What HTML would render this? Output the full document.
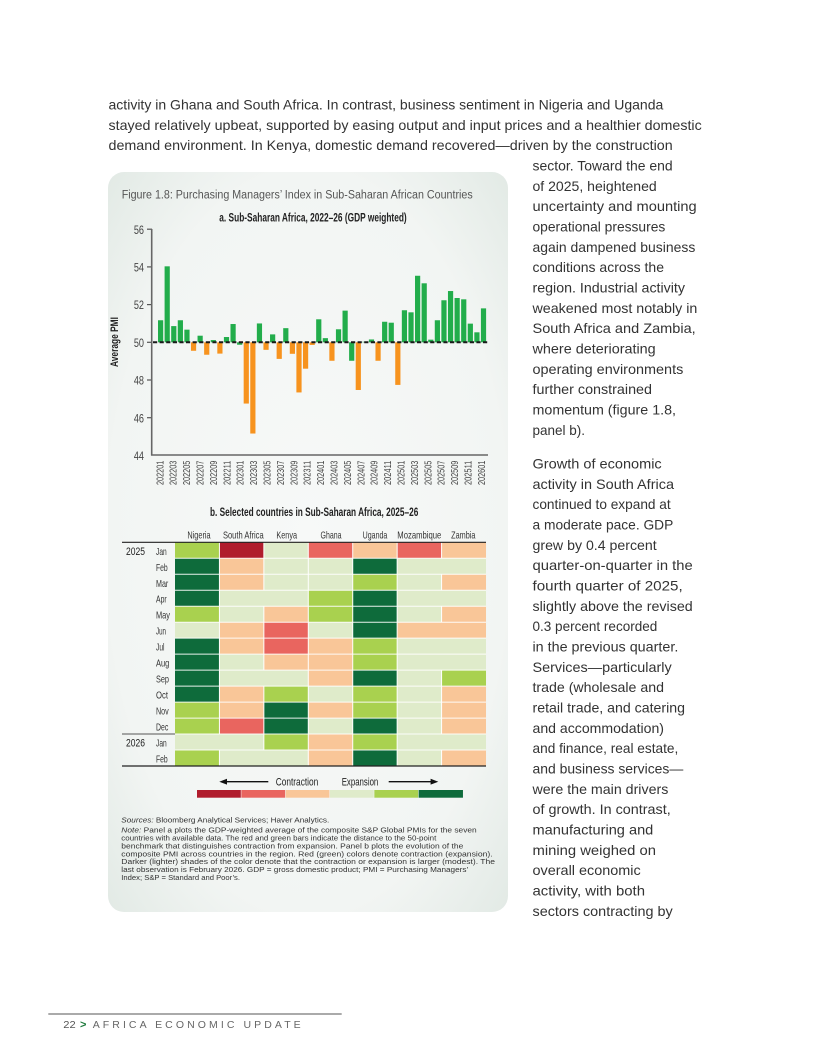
<!DOCTYPE html>
<html><head><meta charset="utf-8">
<style>
html,body{margin:0;padding:0;background:#fff}
svg{display:block}
text{font-family:"Liberation Sans",sans-serif}
.bt{font-size:14px;fill:#333}
.dr{fill:#b01c2c}.r{fill:#e9655f}.p{fill:#f9c698}.lg{fill:#dfebca}.g{fill:#a9d14f}.dg{fill:#0e6b3b}
.gb{fill:#22ad4b}.ob{fill:#f7931e}
.xl{font-size:10.5px;fill:#444}
.ml{font-size:10.5px;fill:#333}
.nt{font-size:7.6px;fill:#333}
</style></head>
<body>
<svg width="816" height="1056" viewBox="0 0 816 1056" xmlns="http://www.w3.org/2000/svg">
<defs>
<radialGradient id="cg" cx="50%" cy="50%" r="72%">
<stop offset="0" stop-color="#f7f9f8"/>
<stop offset="0.7" stop-color="#f2f5f3"/>
<stop offset="1" stop-color="#e1e9e4"/>
</radialGradient>
</defs>
<rect width="816" height="1056" fill="#fff"/>

<!-- top paragraph -->
<text class="bt" x="108.5" y="109.5" textLength="554.8" lengthAdjust="spacingAndGlyphs">activity in Ghana and South Africa. In contrast, business sentiment in Nigeria and Uganda</text>
<text class="bt" x="108.5" y="129.8" textLength="593.2" lengthAdjust="spacingAndGlyphs">stayed relatively upbeat, supported by easing output and input prices and a healthier domestic</text>
<text class="bt" x="108.5" y="150.2" textLength="564.2" lengthAdjust="spacingAndGlyphs">demand environment. In Kenya, domestic demand recovered—driven by the construction</text>

<!-- right column paragraph 1 -->
<text class="bt" x="532.5" y="170.5" textLength="140.2" lengthAdjust="spacingAndGlyphs">sector. Toward the end</text>
<text class="bt" x="532.5" y="190.83" textLength="124.2" lengthAdjust="spacingAndGlyphs">of 2025, heightened</text>
<text class="bt" x="532.5" y="211.16" textLength="164.2" lengthAdjust="spacingAndGlyphs">uncertainty and mounting</text>
<text class="bt" x="532.5" y="231.49" textLength="132.8" lengthAdjust="spacingAndGlyphs">operational pressures</text>
<text class="bt" x="532.5" y="251.82" textLength="162.8" lengthAdjust="spacingAndGlyphs">again dampened business</text>
<text class="bt" x="532.5" y="272.15" textLength="131.5" lengthAdjust="spacingAndGlyphs">conditions across the</text>
<text class="bt" x="532.5" y="292.48" textLength="152.5" lengthAdjust="spacingAndGlyphs">region. Industrial activity</text>
<text class="bt" x="532.5" y="312.81" textLength="164.8" lengthAdjust="spacingAndGlyphs">weakened most notably in</text>
<text class="bt" x="532.5" y="333.14" textLength="163.2" lengthAdjust="spacingAndGlyphs">South Africa and Zambia,</text>
<text class="bt" x="532.5" y="353.47" textLength="123.2" lengthAdjust="spacingAndGlyphs">where deteriorating</text>
<text class="bt" x="532.5" y="373.8" textLength="150.8" lengthAdjust="spacingAndGlyphs">operating environments</text>
<text class="bt" x="532.5" y="394.13" textLength="119.5" lengthAdjust="spacingAndGlyphs">further constrained</text>
<text class="bt" x="532.5" y="414.46" textLength="143.5" lengthAdjust="spacingAndGlyphs">momentum (figure 1.8,</text>
<text class="bt" x="532.5" y="434.79" textLength="52.5" lengthAdjust="spacingAndGlyphs">panel b).</text>

<!-- right column paragraph 2 -->
<text class="bt" x="532.5" y="468.5" textLength="129.2" lengthAdjust="spacingAndGlyphs">Growth of economic</text>
<text class="bt" x="532.5" y="488.83" textLength="141.5" lengthAdjust="spacingAndGlyphs">activity in South Africa</text>
<text class="bt" x="532.5" y="509.16" textLength="138.2" lengthAdjust="spacingAndGlyphs">continued to expand at</text>
<text class="bt" x="532.5" y="529.49" textLength="140.8" lengthAdjust="spacingAndGlyphs">a moderate pace. GDP</text>
<text class="bt" x="532.5" y="549.82" textLength="124.2" lengthAdjust="spacingAndGlyphs">grew by 0.4 percent</text>
<text class="bt" x="532.5" y="570.15" textLength="160.2" lengthAdjust="spacingAndGlyphs">quarter-on-quarter in the</text>
<text class="bt" x="532.5" y="590.48" textLength="150.2" lengthAdjust="spacingAndGlyphs">fourth quarter of 2025,</text>
<text class="bt" x="532.5" y="610.81" textLength="160.2" lengthAdjust="spacingAndGlyphs">slightly above the revised</text>
<text class="bt" x="532.5" y="631.14" textLength="124.8" lengthAdjust="spacingAndGlyphs">0.3 percent recorded</text>
<text class="bt" x="532.5" y="651.47" textLength="145.8" lengthAdjust="spacingAndGlyphs">in the previous quarter.</text>
<text class="bt" x="532.5" y="671.8" textLength="139.2" lengthAdjust="spacingAndGlyphs">Services—particularly</text>
<text class="bt" x="532.5" y="692.13" textLength="131.5" lengthAdjust="spacingAndGlyphs">trade (wholesale and</text>
<text class="bt" x="532.5" y="712.46" textLength="152.5" lengthAdjust="spacingAndGlyphs">retail trade, and catering</text>
<text class="bt" x="532.5" y="732.79" textLength="131.5" lengthAdjust="spacingAndGlyphs">and accommodation)</text>
<text class="bt" x="532.5" y="753.12" textLength="145.8" lengthAdjust="spacingAndGlyphs">and finance, real estate,</text>
<text class="bt" x="532.5" y="773.45" textLength="150.8" lengthAdjust="spacingAndGlyphs">and business services—</text>
<text class="bt" x="532.5" y="793.78" textLength="135.8" lengthAdjust="spacingAndGlyphs">were the main drivers</text>
<text class="bt" x="532.5" y="814.11" textLength="138.2" lengthAdjust="spacingAndGlyphs">of growth. In contrast,</text>
<text class="bt" x="532.5" y="834.44" textLength="120.8" lengthAdjust="spacingAndGlyphs">manufacturing and</text>
<text class="bt" x="532.5" y="854.77" textLength="123.5" lengthAdjust="spacingAndGlyphs">mining weighed on</text>
<text class="bt" x="532.5" y="875.1" textLength="108.2" lengthAdjust="spacingAndGlyphs">overall economic</text>
<text class="bt" x="532.5" y="895.43" textLength="112.5" lengthAdjust="spacingAndGlyphs">activity, with both</text>
<text class="bt" x="532.5" y="915.76" textLength="140.2" lengthAdjust="spacingAndGlyphs">sectors contracting by</text>

<!-- card -->
<rect x="108" y="172" width="400" height="740" rx="16" ry="16" fill="url(#cg)"/>

<text x="121.7" y="198.3" font-size="11.5" fill="#555" textLength="351" lengthAdjust="spacingAndGlyphs">Figure 1.8: Purchasing Managers’ Index in Sub-Saharan African Countries</text>

<!-- panel a -->
<text x="219.3" y="221.5" font-size="11.5" font-weight="bold" fill="#222" textLength="187.4" lengthAdjust="spacingAndGlyphs">a. Sub-Saharan Africa, 2022–26 (GDP weighted)</text>

<text transform="translate(118,342) rotate(-90)" text-anchor="middle" font-size="11" font-weight="bold" fill="#222" textLength="50" lengthAdjust="spacingAndGlyphs">Average PMI</text>

<g font-size="12" fill="#444" text-anchor="end">
<text transform="translate(144,233.8) scale(0.76,1)">56</text>
<text transform="translate(144,271.5) scale(0.76,1)">54</text>
<text transform="translate(144,309.2) scale(0.76,1)">52</text>
<text transform="translate(144,346.9) scale(0.76,1)">50</text>
<text transform="translate(144,384.6) scale(0.76,1)">48</text>
<text transform="translate(144,422.3) scale(0.76,1)">46</text>
<text transform="translate(144,460) scale(0.76,1)">44</text>
</g>
<g stroke="#555" stroke-width="1.2">
<line x1="147" y1="229.2" x2="152" y2="229.2"/>
<line x1="147" y1="266.9" x2="152" y2="266.9"/>
<line x1="147" y1="304.6" x2="152" y2="304.6"/>
<line x1="147" y1="342.3" x2="152" y2="342.3"/>
<line x1="147" y1="380" x2="152" y2="380"/>
<line x1="147" y1="417.7" x2="152" y2="417.7"/>
</g>

<!-- bars -->
<g>
<rect class="gb" x="158.00" y="320.25" width="5.2" height="22.05"/>
<rect class="gb" x="164.59" y="266.33" width="5.2" height="75.97"/>
<rect class="gb" x="171.18" y="326.09" width="5.2" height="16.21"/>
<rect class="gb" x="177.77" y="320.25" width="5.2" height="22.05"/>
<rect class="gb" x="184.36" y="329.67" width="5.2" height="12.63"/>
<rect class="ob" x="190.95" y="342.3" width="5.2" height="8.48"/>
<rect class="gb" x="197.54" y="335.70" width="5.2" height="6.60"/>
<rect class="ob" x="204.13" y="342.3" width="5.2" height="12.44"/>
<rect class="gb" x="210.72" y="340.04" width="5.2" height="2.26"/>
<rect class="ob" x="217.31" y="342.3" width="5.2" height="11.31"/>
<rect class="gb" x="223.90" y="337.02" width="5.2" height="5.28"/>
<rect class="gb" x="230.49" y="324.02" width="5.2" height="18.28"/>
<rect class="gb" x="237.08" y="342.3" width="5.2" height="2.45"/>
<rect class="ob" x="243.67" y="342.3" width="5.2" height="61.26"/>
<rect class="ob" x="250.26" y="342.3" width="5.2" height="91.23"/>
<rect class="gb" x="256.85" y="323.45" width="5.2" height="18.85"/>
<rect class="ob" x="263.44" y="342.3" width="5.2" height="7.54"/>
<rect class="gb" x="270.03" y="334.38" width="5.2" height="7.92"/>
<rect class="ob" x="276.62" y="342.3" width="5.2" height="16.59"/>
<rect class="gb" x="283.21" y="328.16" width="5.2" height="14.14"/>
<rect class="ob" x="289.80" y="342.3" width="5.2" height="11.50"/>
<rect class="ob" x="296.39" y="342.3" width="5.2" height="50.14"/>
<rect class="ob" x="302.98" y="342.3" width="5.2" height="26.39"/>
<rect class="ob" x="309.57" y="342.3" width="5.2" height="2.64"/>
<rect class="gb" x="316.16" y="319.30" width="5.2" height="23.00"/>
<rect class="gb" x="322.75" y="338.15" width="5.2" height="4.15"/>
<rect class="ob" x="329.34" y="342.3" width="5.2" height="18.47"/>
<rect class="gb" x="335.93" y="329.29" width="5.2" height="13.01"/>
<rect class="gb" x="342.52" y="310.63" width="5.2" height="31.67"/>
<rect class="gb" x="349.11" y="342.3" width="5.2" height="18.47"/>
<rect class="ob" x="355.70" y="342.3" width="5.2" height="47.69"/>
<rect class="gb" x="362.29" y="341.8" width="5.2" height="0.5"/>
<rect class="gb" x="368.88" y="339.47" width="5.2" height="2.83"/>
<rect class="ob" x="375.47" y="342.3" width="5.2" height="18.47"/>
<rect class="gb" x="382.06" y="321.75" width="5.2" height="20.55"/>
<rect class="gb" x="388.65" y="322.70" width="5.2" height="19.60"/>
<rect class="ob" x="395.24" y="342.3" width="5.2" height="42.60"/>
<rect class="gb" x="401.83" y="310.25" width="5.2" height="32.05"/>
<rect class="gb" x="408.42" y="312.33" width="5.2" height="29.97"/>
<rect class="gb" x="415.01" y="275.76" width="5.2" height="66.54"/>
<rect class="gb" x="421.60" y="283.30" width="5.2" height="59.00"/>
<rect class="gb" x="428.19" y="339.66" width="5.2" height="2.64"/>
<rect class="gb" x="434.78" y="320.25" width="5.2" height="22.05"/>
<rect class="gb" x="441.37" y="300.26" width="5.2" height="42.04"/>
<rect class="gb" x="447.96" y="291.03" width="5.2" height="51.27"/>
<rect class="gb" x="454.55" y="298.00" width="5.2" height="44.30"/>
<rect class="gb" x="461.14" y="299.32" width="5.2" height="42.98"/>
<rect class="gb" x="467.73" y="323.64" width="5.2" height="18.66"/>
<rect class="gb" x="474.32" y="332.31" width="5.2" height="9.99"/>
<rect class="gb" x="480.91" y="308.37" width="5.2" height="33.93"/>
</g>
<line x1="153" y1="342.3" x2="488" y2="342.3" stroke="#1a1a1a" stroke-width="2" stroke-dasharray="4.2 2.4"/>
<line x1="151.7" y1="229" x2="151.7" y2="455.5" stroke="#666" stroke-width="1.6"/>
<line x1="151" y1="455" x2="488" y2="455" stroke="#666" stroke-width="1.6"/>

<!-- x labels -->
<g class="xl">
<text transform="translate(163.3,485) rotate(-90)" textLength="24.3" lengthAdjust="spacingAndGlyphs">202201</text>
<text transform="translate(176.7,485) rotate(-90)" textLength="24.3" lengthAdjust="spacingAndGlyphs">202203</text>
<text transform="translate(190.1,485) rotate(-90)" textLength="24.3" lengthAdjust="spacingAndGlyphs">202205</text>
<text transform="translate(203.5,485) rotate(-90)" textLength="24.3" lengthAdjust="spacingAndGlyphs">202207</text>
<text transform="translate(216.9,485) rotate(-90)" textLength="24.3" lengthAdjust="spacingAndGlyphs">202209</text>
<text transform="translate(230.3,485) rotate(-90)" textLength="24.3" lengthAdjust="spacingAndGlyphs">202211</text>
<text transform="translate(243.7,485) rotate(-90)" textLength="24.3" lengthAdjust="spacingAndGlyphs">202301</text>
<text transform="translate(257.1,485) rotate(-90)" textLength="24.3" lengthAdjust="spacingAndGlyphs">202303</text>
<text transform="translate(270.5,485) rotate(-90)" textLength="24.3" lengthAdjust="spacingAndGlyphs">202305</text>
<text transform="translate(283.9,485) rotate(-90)" textLength="24.3" lengthAdjust="spacingAndGlyphs">202307</text>
<text transform="translate(297.3,485) rotate(-90)" textLength="24.3" lengthAdjust="spacingAndGlyphs">202309</text>
<text transform="translate(310.7,485) rotate(-90)" textLength="24.3" lengthAdjust="spacingAndGlyphs">202311</text>
<text transform="translate(324.1,485) rotate(-90)" textLength="24.3" lengthAdjust="spacingAndGlyphs">202401</text>
<text transform="translate(337.5,485) rotate(-90)" textLength="24.3" lengthAdjust="spacingAndGlyphs">202403</text>
<text transform="translate(350.9,485) rotate(-90)" textLength="24.3" lengthAdjust="spacingAndGlyphs">202405</text>
<text transform="translate(364.3,485) rotate(-90)" textLength="24.3" lengthAdjust="spacingAndGlyphs">202407</text>
<text transform="translate(377.7,485) rotate(-90)" textLength="24.3" lengthAdjust="spacingAndGlyphs">202409</text>
<text transform="translate(391.1,485) rotate(-90)" textLength="24.3" lengthAdjust="spacingAndGlyphs">202411</text>
<text transform="translate(404.5,485) rotate(-90)" textLength="24.3" lengthAdjust="spacingAndGlyphs">202501</text>
<text transform="translate(417.9,485) rotate(-90)" textLength="24.3" lengthAdjust="spacingAndGlyphs">202503</text>
<text transform="translate(431.3,485) rotate(-90)" textLength="24.3" lengthAdjust="spacingAndGlyphs">202505</text>
<text transform="translate(444.7,485) rotate(-90)" textLength="24.3" lengthAdjust="spacingAndGlyphs">202507</text>
<text transform="translate(458.1,485) rotate(-90)" textLength="24.3" lengthAdjust="spacingAndGlyphs">202509</text>
<text transform="translate(471.5,485) rotate(-90)" textLength="24.3" lengthAdjust="spacingAndGlyphs">202511</text>
<text transform="translate(484.9,485) rotate(-90)" textLength="24.3" lengthAdjust="spacingAndGlyphs">202601</text>
</g>

<!-- panel b -->
<text x="210" y="515.8" font-size="11.5" font-weight="bold" fill="#222" textLength="208.3" lengthAdjust="spacingAndGlyphs">b. Selected countries in Sub-Saharan Africa, 2025–26</text>

<g font-size="10.5" fill="#333" text-anchor="middle">
<text x="199" y="538.4" textLength="23.3" lengthAdjust="spacingAndGlyphs">Nigeria</text>
<text x="243.3" y="538.4" textLength="40.7" lengthAdjust="spacingAndGlyphs">South Africa</text>
<text x="286.7" y="538.4" textLength="20.7" lengthAdjust="spacingAndGlyphs">Kenya</text>
<text x="331" y="538.4" textLength="21" lengthAdjust="spacingAndGlyphs">Ghana</text>
<text x="375" y="538.4" textLength="24.7" lengthAdjust="spacingAndGlyphs">Uganda</text>
<text x="419.3" y="538.4" textLength="44" lengthAdjust="spacingAndGlyphs">Mozambique</text>
<text x="463.3" y="538.4" textLength="24.3" lengthAdjust="spacingAndGlyphs">Zambia</text>
</g>

<!-- heatmap cells -->
<g>
<!-- row 0 Jan 2025 -->
<rect class="g" x="175" y="542.3" width="44.5" height="16.1"/><rect class="dr" x="219.43" y="542.3" width="44.5" height="16.1"/><rect class="lg" x="263.86" y="542.3" width="44.5" height="16.1"/><rect class="r" x="308.29" y="542.3" width="44.5" height="16.1"/><rect class="p" x="352.72" y="542.3" width="44.5" height="16.1"/><rect class="r" x="397.15" y="542.3" width="44.5" height="16.1"/><rect class="p" x="441.58" y="542.3" width="44.43" height="16.1"/>
<!-- row 1 Feb -->
<rect class="dg" x="175" y="558.28" width="44.5" height="16.1"/><rect class="p" x="219.43" y="558.28" width="44.5" height="16.1"/><rect class="lg" x="263.86" y="558.28" width="44.5" height="16.1"/><rect class="lg" x="308.29" y="558.28" width="44.5" height="16.1"/><rect class="dg" x="352.72" y="558.28" width="44.5" height="16.1"/><rect class="lg" x="397.15" y="558.28" width="44.5" height="16.1"/><rect class="lg" x="441.58" y="558.28" width="44.43" height="16.1"/>
<!-- row 2 Mar -->
<rect class="dg" x="175" y="574.26" width="44.5" height="16.1"/><rect class="p" x="219.43" y="574.26" width="44.5" height="16.1"/><rect class="lg" x="263.86" y="574.26" width="44.5" height="16.1"/><rect class="lg" x="308.29" y="574.26" width="44.5" height="16.1"/><rect class="g" x="352.72" y="574.26" width="44.5" height="16.1"/><rect class="lg" x="397.15" y="574.26" width="44.5" height="16.1"/><rect class="p" x="441.58" y="574.26" width="44.43" height="16.1"/>
<!-- row 3 Apr -->
<rect class="dg" x="175" y="590.24" width="44.5" height="16.1"/><rect class="lg" x="219.43" y="590.24" width="44.5" height="16.1"/><rect class="lg" x="263.86" y="590.24" width="44.5" height="16.1"/><rect class="g" x="308.29" y="590.24" width="44.5" height="16.1"/><rect class="dg" x="352.72" y="590.24" width="44.5" height="16.1"/><rect class="lg" x="397.15" y="590.24" width="44.5" height="16.1"/><rect class="lg" x="441.58" y="590.24" width="44.43" height="16.1"/>
<!-- row 4 May -->
<rect class="g" x="175" y="606.22" width="44.5" height="16.1"/><rect class="lg" x="219.43" y="606.22" width="44.5" height="16.1"/><rect class="p" x="263.86" y="606.22" width="44.5" height="16.1"/><rect class="g" x="308.29" y="606.22" width="44.5" height="16.1"/><rect class="dg" x="352.72" y="606.22" width="44.5" height="16.1"/><rect class="lg" x="397.15" y="606.22" width="44.5" height="16.1"/><rect class="p" x="441.58" y="606.22" width="44.43" height="16.1"/>
<!-- row 5 Jun -->
<rect class="lg" x="175" y="622.2" width="44.5" height="16.1"/><rect class="p" x="219.43" y="622.2" width="44.5" height="16.1"/><rect class="r" x="263.86" y="622.2" width="44.5" height="16.1"/><rect class="lg" x="308.29" y="622.2" width="44.5" height="16.1"/><rect class="dg" x="352.72" y="622.2" width="44.5" height="16.1"/><rect class="p" x="397.15" y="622.2" width="44.5" height="16.1"/><rect class="p" x="441.58" y="622.2" width="44.43" height="16.1"/>
<!-- row 6 Jul -->
<rect class="dg" x="175" y="638.18" width="44.5" height="16.1"/><rect class="p" x="219.43" y="638.18" width="44.5" height="16.1"/><rect class="r" x="263.86" y="638.18" width="44.5" height="16.1"/><rect class="p" x="308.29" y="638.18" width="44.5" height="16.1"/><rect class="g" x="352.72" y="638.18" width="44.5" height="16.1"/><rect class="lg" x="397.15" y="638.18" width="44.5" height="16.1"/><rect class="lg" x="441.58" y="638.18" width="44.43" height="16.1"/>
<!-- row 7 Aug -->
<rect class="dg" x="175" y="654.16" width="44.5" height="16.1"/><rect class="lg" x="219.43" y="654.16" width="44.5" height="16.1"/><rect class="p" x="263.86" y="654.16" width="44.5" height="16.1"/><rect class="p" x="308.29" y="654.16" width="44.5" height="16.1"/><rect class="g" x="352.72" y="654.16" width="44.5" height="16.1"/><rect class="lg" x="397.15" y="654.16" width="44.5" height="16.1"/><rect class="lg" x="441.58" y="654.16" width="44.43" height="16.1"/>
<!-- row 8 Sep -->
<rect class="dg" x="175" y="670.14" width="44.5" height="16.1"/><rect class="lg" x="219.43" y="670.14" width="44.5" height="16.1"/><rect class="lg" x="263.86" y="670.14" width="44.5" height="16.1"/><rect class="p" x="308.29" y="670.14" width="44.5" height="16.1"/><rect class="dg" x="352.72" y="670.14" width="44.5" height="16.1"/><rect class="lg" x="397.15" y="670.14" width="44.5" height="16.1"/><rect class="g" x="441.58" y="670.14" width="44.43" height="16.1"/>
<!-- row 9 Oct -->
<rect class="dg" x="175" y="686.12" width="44.5" height="16.1"/><rect class="p" x="219.43" y="686.12" width="44.5" height="16.1"/><rect class="g" x="263.86" y="686.12" width="44.5" height="16.1"/><rect class="lg" x="308.29" y="686.12" width="44.5" height="16.1"/><rect class="g" x="352.72" y="686.12" width="44.5" height="16.1"/><rect class="lg" x="397.15" y="686.12" width="44.5" height="16.1"/><rect class="p" x="441.58" y="686.12" width="44.43" height="16.1"/>
<!-- row 10 Nov -->
<rect class="g" x="175" y="702.1" width="44.5" height="16.1"/><rect class="p" x="219.43" y="702.1" width="44.5" height="16.1"/><rect class="dg" x="263.86" y="702.1" width="44.5" height="16.1"/><rect class="p" x="308.29" y="702.1" width="44.5" height="16.1"/><rect class="g" x="352.72" y="702.1" width="44.5" height="16.1"/><rect class="lg" x="397.15" y="702.1" width="44.5" height="16.1"/><rect class="p" x="441.58" y="702.1" width="44.43" height="16.1"/>
<!-- row 11 Dec -->
<rect class="g" x="175" y="718.08" width="44.5" height="16.1"/><rect class="r" x="219.43" y="718.08" width="44.5" height="16.1"/><rect class="dg" x="263.86" y="718.08" width="44.5" height="16.1"/><rect class="lg" x="308.29" y="718.08" width="44.5" height="16.1"/><rect class="dg" x="352.72" y="718.08" width="44.5" height="16.1"/><rect class="lg" x="397.15" y="718.08" width="44.5" height="16.1"/><rect class="p" x="441.58" y="718.08" width="44.43" height="16.1"/>
<!-- row 12 Jan 2026 -->
<rect class="lg" x="175" y="734.06" width="44.5" height="16.1"/><rect class="lg" x="219.43" y="734.06" width="44.5" height="16.1"/><rect class="g" x="263.86" y="734.06" width="44.5" height="16.1"/><rect class="p" x="308.29" y="734.06" width="44.5" height="16.1"/><rect class="g" x="352.72" y="734.06" width="44.5" height="16.1"/><rect class="lg" x="397.15" y="734.06" width="44.5" height="16.1"/><rect class="lg" x="441.58" y="734.06" width="44.43" height="16.1"/>
<!-- row 13 Feb 2026 -->
<rect class="g" x="175" y="750.04" width="44.5" height="15.98"/><rect class="lg" x="219.43" y="750.04" width="44.5" height="15.98"/><rect class="lg" x="263.86" y="750.04" width="44.5" height="15.98"/><rect class="p" x="308.29" y="750.04" width="44.5" height="15.98"/><rect class="dg" x="352.72" y="750.04" width="44.5" height="15.98"/><rect class="lg" x="397.15" y="750.04" width="44.5" height="15.98"/><rect class="p" x="441.58" y="750.04" width="44.43" height="15.98"/>
</g>
<!-- vertical separators -->
<g stroke="#fff" stroke-width="1">
<line x1="219.43" y1="542.3" x2="219.43" y2="766"/>
<line x1="263.86" y1="542.3" x2="263.86" y2="766"/>
<line x1="308.29" y1="542.3" x2="308.29" y2="766"/>
<line x1="352.72" y1="542.3" x2="352.72" y2="766"/>
<line x1="397.15" y1="542.3" x2="397.15" y2="766"/>
<line x1="441.58" y1="542.3" x2="441.58" y2="766"/>
</g>
<!-- merged patches -->
<g>
<rect class="lg" x="440.3" y="558.28" width="2.6" height="16"/>
<rect class="lg" x="262.6" y="590.24" width="2.6" height="16"/>
<rect class="lg" x="440.3" y="590.24" width="2.6" height="16"/>
<rect class="p" x="440.3" y="622.2" width="2.6" height="16"/>
<rect class="lg" x="440.3" y="638.18" width="2.6" height="16"/>
<rect class="lg" x="440.3" y="654.16" width="2.6" height="16"/>
<rect class="lg" x="262.6" y="670.14" width="2.6" height="16"/>
<rect class="lg" x="218.1" y="734.06" width="2.6" height="16"/>
<rect class="lg" x="440.3" y="734.06" width="2.6" height="16"/>
<rect class="lg" x="262.6" y="750.04" width="2.6" height="16"/>
</g>
<!-- horizontal separators -->
<g stroke="#fff" stroke-width="1" opacity="0.9">
<line x1="175" y1="558.28" x2="486" y2="558.28"/>
<line x1="175" y1="574.26" x2="486" y2="574.26"/>
<line x1="175" y1="590.24" x2="486" y2="590.24"/>
<line x1="175" y1="606.22" x2="486" y2="606.22"/>
<line x1="175" y1="622.2" x2="486" y2="622.2"/>
<line x1="175" y1="638.18" x2="486" y2="638.18"/>
<line x1="175" y1="654.16" x2="486" y2="654.16"/>
<line x1="175" y1="670.14" x2="486" y2="670.14"/>
<line x1="175" y1="686.12" x2="486" y2="686.12"/>
<line x1="175" y1="702.1" x2="486" y2="702.1"/>
<line x1="175" y1="718.08" x2="486" y2="718.08"/>
<line x1="175" y1="734.06" x2="486" y2="734.06"/>
<line x1="175" y1="750.04" x2="486" y2="750.04"/>
</g>
<line x1="122" y1="542.3" x2="486" y2="542.3" stroke="#222" stroke-width="1.2"/>
<line x1="122" y1="766" x2="486" y2="766" stroke="#222" stroke-width="1.2"/>
<line x1="122" y1="734.06" x2="175" y2="734.06" stroke="#555" stroke-width="1"/>

<!-- row labels -->
<text x="126" y="554.8" font-size="11" fill="#222" textLength="19" lengthAdjust="spacingAndGlyphs">2025</text>
<text x="126" y="746.6" font-size="11" fill="#222" textLength="19" lengthAdjust="spacingAndGlyphs">2026</text>
<g class="ml">
<text x="156" y="554.8" textLength="10.7" lengthAdjust="spacingAndGlyphs">Jan</text>
<text x="156" y="570.78" textLength="11.7" lengthAdjust="spacingAndGlyphs">Feb</text>
<text x="156" y="586.76" textLength="12.3" lengthAdjust="spacingAndGlyphs">Mar</text>
<text x="156" y="602.74" textLength="10.7" lengthAdjust="spacingAndGlyphs">Apr</text>
<text x="156" y="618.72" textLength="14" lengthAdjust="spacingAndGlyphs">May</text>
<text x="156" y="634.7" textLength="10" lengthAdjust="spacingAndGlyphs">Jun</text>
<text x="156" y="650.68" textLength="8.5" lengthAdjust="spacingAndGlyphs">Jul</text>
<text x="156" y="666.66" textLength="13.3" lengthAdjust="spacingAndGlyphs">Aug</text>
<text x="156" y="682.64" textLength="13" lengthAdjust="spacingAndGlyphs">Sep</text>
<text x="156" y="698.62" textLength="12" lengthAdjust="spacingAndGlyphs">Oct</text>
<text x="156" y="714.6" textLength="12.7" lengthAdjust="spacingAndGlyphs">Nov</text>
<text x="156" y="730.58" textLength="12.3" lengthAdjust="spacingAndGlyphs">Dec</text>
<text x="156" y="746.56" textLength="10.7" lengthAdjust="spacingAndGlyphs">Jan</text>
<text x="156" y="762.54" textLength="11.7" lengthAdjust="spacingAndGlyphs">Feb</text>
</g>

<!-- legend -->
<line x1="224" y1="781.7" x2="268.3" y2="781.7" stroke="#111" stroke-width="1.3"/>
<polygon points="219.3,781.7 227,778.8 227,784.6" fill="#111"/>
<line x1="388.7" y1="781.7" x2="433" y2="781.7" stroke="#111" stroke-width="1.3"/>
<polygon points="438.3,781.7 430.6,778.8 430.6,784.6" fill="#111"/>
<text x="275.7" y="785.5" font-size="11" fill="#222" textLength="42.6" lengthAdjust="spacingAndGlyphs">Contraction</text>
<text x="341.7" y="785.5" font-size="11" fill="#222" textLength="36.6" lengthAdjust="spacingAndGlyphs">Expansion</text>
<rect class="dr" x="197" y="790" width="43.8" height="7.7"/>
<rect class="r" x="241.33" y="790" width="43.8" height="7.7"/>
<rect class="p" x="285.66" y="790" width="43.8" height="7.7"/>
<rect class="lg" x="330" y="790" width="43.8" height="7.7"/>
<rect class="g" x="374.33" y="790" width="43.8" height="7.7"/>
<rect class="dg" x="418.66" y="790" width="44.3" height="7.7"/>

<!-- notes -->
<text class="nt" x="121.3" y="822.5" textLength="208" lengthAdjust="spacingAndGlyphs"><tspan font-style="italic">Sources:</tspan> Bloomberg Analytical Services; Haver Analytics.</text>
<text class="nt" x="121.3" y="832.5" textLength="355.4" lengthAdjust="spacingAndGlyphs"><tspan font-style="italic">Note:</tspan> Panel a plots the GDP-weighted average of the composite S&amp;P Global PMIs for the seven</text>
<text class="nt" x="121.3" y="840.6" textLength="315" lengthAdjust="spacingAndGlyphs">countries with available data. The red and green bars indicate the distance to the 50-point</text>
<text class="nt" x="121.3" y="848.4" textLength="342" lengthAdjust="spacingAndGlyphs">benchmark that distinguishes contraction from expansion. Panel b plots the evolution of the</text>
<text class="nt" x="121.3" y="856.3" textLength="371.4" lengthAdjust="spacingAndGlyphs">composite PMI across countries in the region. Red (green) colors denote contraction (expansion).</text>
<text class="nt" x="121.3" y="864.2" textLength="373.7" lengthAdjust="spacingAndGlyphs">Darker (lighter) shades of the color denote that the contraction or expansion is larger (modest). The</text>
<text class="nt" x="121.3" y="872" textLength="347" lengthAdjust="spacingAndGlyphs">last observation is February 2026. GDP = gross domestic product; PMI = Purchasing Managers’</text>
<text class="nt" x="121.3" y="879.8" textLength="118.7" lengthAdjust="spacingAndGlyphs">Index; S&amp;P = Standard and Poor’s.</text>

<!-- footer -->
<line x1="48.3" y1="1014" x2="341.7" y2="1014" stroke="#777" stroke-width="1.3"/>
<text x="63.3" y="1028" font-size="10.5" fill="#555" textLength="12.4" lengthAdjust="spacingAndGlyphs">22</text>
<text x="80" y="1028" font-size="11" font-weight="bold" fill="#1e7a3c">&gt;</text>
<text x="92.7" y="1028" font-size="10.5" fill="#666" textLength="208" lengthAdjust="spacing">AFRICA ECONOMIC UPDATE</text>
</svg>
</body></html>
